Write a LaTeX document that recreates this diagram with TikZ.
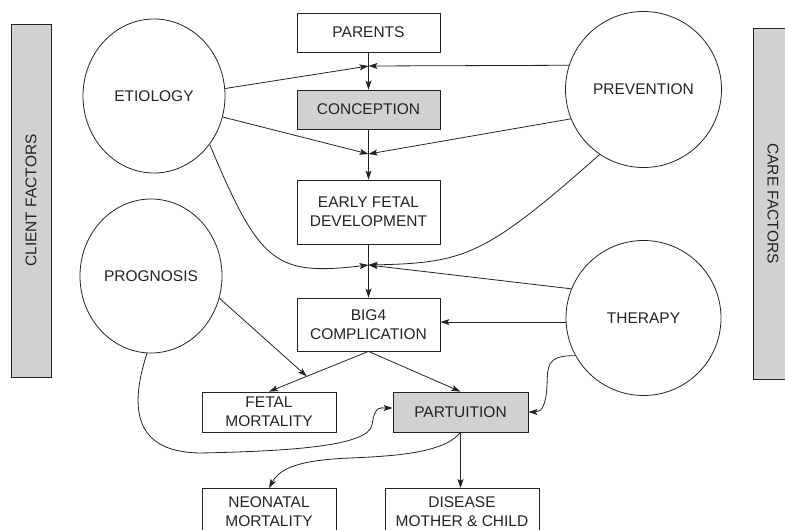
\documentclass[tikz,border=0pt]{standalone}
\usepackage{fontspec}
\setmainfont{Liberation Sans}
\usetikzlibrary{shapes.geometric,arrows.meta,calc}
\definecolor{boxgray}{RGB}{208,209,211}
\definecolor{ink}{RGB}{35,35,35}

\begin{document}
\begin{tikzpicture}[x=1pt,y=-1pt,line width=0.8pt,color=ink,
    font=\fontsize{15.5}{19}\selectfont,
    stage/.style={draw,rectangle,align=center,inner sep=0pt,minimum width=143pt,minimum height=39pt},
    factor/.style={draw,ellipse,inner sep=0pt},
    sidebar/.style={draw,fill=boxgray,inner sep=0pt,minimum height=40pt},
    arr/.style={-{Stealth[length=9pt,width=6pt,inset=2pt]}}]
    \useasboundingbox (0,0) rectangle (785,530);
    % Side bars
    \node[sidebar,rotate=90,minimum width=353pt] (client) at (31,200.5) {CLIENT FACTORS};
    \node[sidebar,rotate=-90,minimum width=351pt] (care) at (773,203.5) {CARE FACTORS};
    % Factors
    \node[factor,minimum width=142pt,minimum height=154pt] (etio) at (154,96) {ETIOLOGY};
    \node[factor,minimum width=142pt,minimum height=154pt] (progn) at (151,276) {PROGNOSIS};
    \node[factor,minimum size=156pt] (prev) at (643.5,89.5) {PREVENTION};
    \node[factor,minimum size=155pt] (ther) at (643.5,318) {THERAPY};
    % Stages
    \node[stage] (parents) at (368.5,32.5) {PARENTS};
    \node[stage,fill=boxgray] (concep) at (368.5,109.5) {CONCEPTION};
    \node[stage,minimum height=64pt] (early) at (368.5,212) {EARLY FETAL\\DEVELOPMENT};
    \node[stage,minimum height=53pt] (big4) at (368.5,324.5) {BIG4\\COMPLICATION};
    \node[stage,minimum width=134pt,minimum height=40pt] (fetal) at (269,412) {FETAL\\MORTALITY};
    \node[stage,fill=boxgray,minimum width=135pt,minimum height=40pt] (partu) at (460.5,412) {PARTUITION};
    \node[stage,anchor=north,minimum width=134pt,minimum height=47pt] (neo) at (269,488) {NEONATAL\\MORTALITY};
    \node[stage,anchor=north,minimum width=154pt,minimum height=47pt] (disease) at (462,488) {DISEASE\\MOTHER \& CHILD};
    % Junctions
    \coordinate (j1) at (368.5,66);
    \coordinate (j2) at (368.5,154);
    \coordinate (j3) at (368.5,265);
    \coordinate (j4) at ($(big4.south)!0.62!(fetal.north)$);
    % Main chain
    \draw[arr] (parents) -- (concep);
    \draw[arr] (concep) -- (early);
    \draw[arr] (early) -- (big4);
    \draw[arr] (big4.south) -- (fetal.north);
    \draw[arr] (big4.south) -- (partu.north);
    \draw[arr] (partu.south) -- (partu.south |- disease.north);
    % Factors into the chain
    \draw[arr] (etio.6) -- (j1);
    \draw[arr] (prev.162) -- (j1);
    \draw[arr] (etio.-17) -- (j2);
    \draw[arr] (prev.-158) -- (j2);
    \draw[arr] (etio.-41) .. controls (259.8,264) and (275,276) .. (j3);
    \draw[arr] (prev.-124) .. controls (485,256) and (465,263) .. (j3);
    \draw[arr] (ther.158) -- (j3);
    \draw[arr] (ther.183) -- (ther.183 -| big4.east);
    \draw[arr] (progn.-18) -- (j4);
    % Curved links to and from partuition
    \draw[arr] (progn.-93) .. controls (132,400) and (128,452) .. (200,453)
        .. controls (300,451) and (368,445) .. (372,425)
        .. controls (375,405) and (380,408) .. ([yshift=4pt]partu.west);
    \draw[arr] (ther.-151) .. controls (545,355) and (548,368) .. (547,385)
        .. controls (546,405) and (542,412) .. (partu.east);
    \draw[arr] (partu.south) .. controls (445,452) and (400,456) .. (350,458)
        .. controls (300,460) and (280,468) .. (neo.north);
\end{tikzpicture}
\end{document}
